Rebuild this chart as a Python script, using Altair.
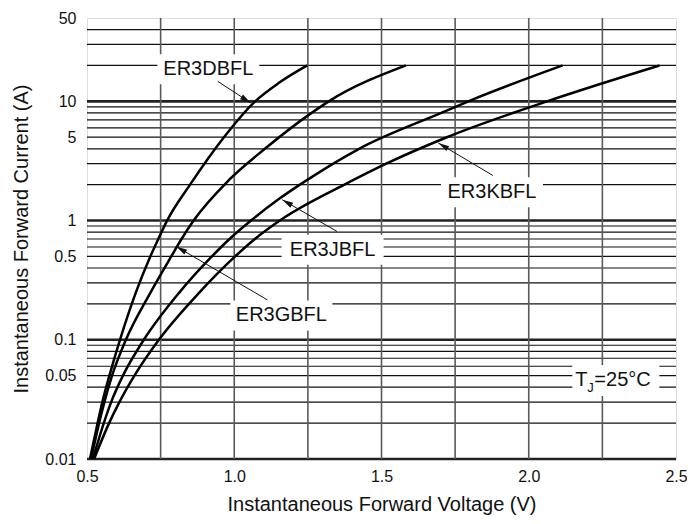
import math
import altair as alt
import pandas as pd

# ---------------- data ----------------
d_i = [0.01, 0.02, 0.03, 0.05, 0.1, 0.25, 0.5, 0.7, 1, 2, 5, 10, 14.3, 20]
d_v = [0.510, 0.536, 0.552, 0.576, 0.612, 0.666, 0.715, 0.742, 0.772, 0.850, 0.965, 1.071, 1.152, 1.248]

g_i = [0.01, 0.02, 0.03, 0.05, 0.1, 0.25, 0.5, 0.7, 1, 2.2, 4, 7.7, 10, 20]
g_v = [0.514, 0.541, 0.559, 0.585, 0.632, 0.716, 0.786, 0.821, 0.862, 0.983, 1.104, 1.253, 1.321, 1.583]

j_i = [0.01, 0.02, 0.03, 0.05, 0.1, 0.25, 0.5, 0.7, 1, 1.5, 2, 4, 8, 10, 20]
j_v = [0.520, 0.557, 0.582, 0.622, 0.693, 0.814, 0.924, 0.984, 1.057, 1.149, 1.223, 1.424, 1.703, 1.795, 2.115]

k_i = [0.01, 0.02, 0.03, 0.05, 0.1, 0.25, 0.5, 0.7, 1, 2, 3, 5, 10, 20]
k_v = [0.524, 0.575, 0.610, 0.661, 0.744, 0.882, 1.003, 1.070, 1.155, 1.374, 1.516, 1.722, 2.062, 2.444]

series_names = ["ER3DBFL", "ER3GBFL", "ER3JBFL", "ER3KBFL"]

# curve labels (voltage, current of label centre)
lab_text = ["ER3DBFL", "ER3JBFL", "ER3GBFL", "ER3KBFL"]
lab_v = [0.912, 1.334, 1.160, 1.875]
lab_i = [18.6, 0.569, 0.160, 1.73]

# arrows: from label to curve
arr_v0 = [0.944, 1.349, 1.1125, 1.878]
arr_i0 = [14.7, 0.810, 0.216, 2.39]
arr_v1 = [1.056, 1.163, 0.803, 1.693]
arr_i1 = [9.70, 1.495, 0.606, 4.47]

# temperature note
tj_v = [2.294]
tj_i = [0.046]

# grid / ticks
x_ticks = [0.5, 1.0, 1.5, 2.0, 2.5]
x_grid = [0.75, 1.0, 1.25, 1.5, 1.75, 2.0, 2.25]
y_ticks = [0.01, 0.05, 0.1, 0.5, 1, 5, 10, 50]
y_minor = [m * d for d in [0.01, 0.1, 1] for m in range(2, 10)] + [20, 30, 40]
y_decades = [0.01, 0.1, 1, 10]

# ---------------- layout ----------------
W, H = 589, 441
XMIN, XMAX = 0.5, 2.5
YMIN, YMAX = 0.01, 50
FONT = "Liberation Sans"


def px(v):
    return (v - XMIN) / (XMAX - XMIN) * W


def py(i):
    return H - (math.log10(i) - math.log10(YMIN)) / (math.log10(YMAX) - math.log10(YMIN)) * H


rows = []
for name, vs, cs in zip(series_names, [d_v, g_v, j_v, k_v], [d_i, g_i, j_i, k_i]):
    for n, (v, c) in enumerate(zip(vs, cs)):
        rows.append({"series": name, "v": v, "i": c, "o": n})
curves = pd.DataFrame(rows)

labels = pd.DataFrame({"t": lab_text, "v": lab_v, "i": lab_i})
angles = []
for a, b, c, d in zip(arr_v0, arr_i0, arr_v1, arr_i1):
    dx = px(c) - px(a)
    dy = py(d) - py(b)
    angles.append(math.degrees(math.atan2(dx, -dy)) % 360)
arrows = pd.DataFrame({"v0": arr_v0, "i0": arr_i0, "v1": arr_v1, "i1": arr_i1, "ang": angles})
tj = pd.DataFrame({"v": tj_v, "i": tj_i})

xs = alt.Scale(domain=[XMIN, XMAX], nice=False, zero=False)
ys = alt.Scale(type="log", domain=[YMIN, YMAX], nice=False)

x_axis = alt.Axis(
    values=x_ticks, format=".1f", title="Instantaneous Forward Voltage (V)",
    labelFont=FONT, titleFont=FONT, labelFontSize=16, titleFontSize=20,
    titleFontWeight="normal", labelColor="#111", titleColor="#111",
    ticks=False, domain=False, grid=False, labelPadding=9, labelFlush=False,
    titlePadding=10,
)
y_axis = alt.Axis(
    values=y_ticks, format="~g", title="Instantaneous Forward Current (A)",
    labelFont=FONT, titleFont=FONT, labelFontSize=16, titleFontSize=20,
    titleFontWeight="normal", labelColor="#111", titleColor="#111",
    ticks=False, domain=False, grid=False, labelPadding=11, labelFlush=False,
    labelOverlap=False, titlePadding=13,
)


def X(f):
    return alt.X(f, scale=xs, axis=x_axis)


def Y(f):
    return alt.Y(f, scale=ys, axis=y_axis)


hgrid = alt.Chart(pd.DataFrame({"i": y_minor})).mark_rule(color="#111", strokeWidth=1.2).encode(y=Y("i:Q"))
hdec = alt.Chart(pd.DataFrame({"i": y_decades})).mark_rule(color="#222", strokeWidth=2.6).encode(y=Y("i:Q"))
vgrid = alt.Chart(pd.DataFrame({"v": x_grid})).mark_rule(color="#5a5a5a", strokeWidth=1.6).encode(x=X("v:Q"))

boxes = alt.Chart(labels).mark_rect(
    fill="white", xOffset=-51, x2Offset=51, yOffset=-15, y2Offset=15
).encode(x=X("v:Q"), x2="v:Q", y=Y("i:Q"), y2="i:Q")
tj_box = alt.Chart(tj).mark_rect(
    fill="white", xOffset=-43, x2Offset=44, yOffset=-15, y2Offset=16
).encode(x=X("v:Q"), x2="v:Q", y=Y("i:Q"), y2="i:Q")

lines = alt.Chart(curves).mark_line(color="black", strokeWidth=2.5, interpolate="monotone").encode(
    x=X("v:Q"), y=Y("i:Q"), detail="series:N", order="o:Q",
)

texts = alt.Chart(labels).mark_text(font=FONT, fontSize=20, color="#111", baseline="middle", align="center").encode(
    x=X("v:Q"), y=Y("i:Q"), text="t:N"
)

tj_T = alt.Chart(tj).mark_text(font=FONT, fontSize=20, color="#111", baseline="middle", align="left", dx=-40, text="T").encode(
    x=X("v:Q"), y=Y("i:Q")
)
tj_J = alt.Chart(tj).mark_text(font=FONT, fontSize=13, color="#111", baseline="middle", align="left", dx=-28, dy=8, text="J").encode(
    x=X("v:Q"), y=Y("i:Q")
)
tj_rest = alt.Chart(tj).mark_text(font=FONT, fontSize=20, color="#111", baseline="middle", align="left", dx=-21, text="=25°C").encode(
    x=X("v:Q"), y=Y("i:Q")
)

arrow_lines = alt.Chart(arrows).mark_rule(color="#111", strokeWidth=1).encode(
    x=X("v0:Q"), y=Y("i0:Q"), x2="v1:Q", y2="i1:Q",
)
arrow_heads = alt.Chart(arrows).mark_point(
    shape="M0,0L-0.45,1.8L0.45,1.8Z", filled=True, fill="#111", strokeWidth=0, opacity=1, size=150
).encode(
    x=X("v1:Q"), y=Y("i1:Q"), angle=alt.Angle("ang:Q", scale=None),
)

chart = alt.layer(
    hgrid, hdec, vgrid, boxes, tj_box, lines, texts, tj_T, tj_J, tj_rest, arrow_lines, arrow_heads
).properties(
    width=W, height=H,
    autosize=alt.AutoSizeParams(type="none"),
    padding={"left": 79, "top": 10, "right": 11, "bottom": 57},
).configure_view(
    stroke="#444", strokeWidth=2
).configure(background="white")

chart.save("out.html", embed_options={"renderer": "svg", "actions": False})
